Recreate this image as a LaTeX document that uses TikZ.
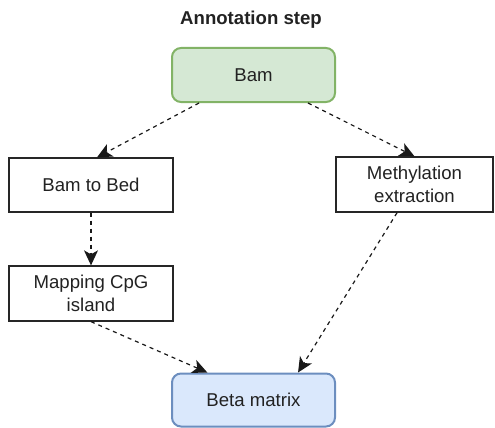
\documentclass[tikz,border=0pt]{standalone}
\usepackage{fontspec}
\setmainfont{Liberation Sans}
\usetikzlibrary{arrows.meta,calc}
\definecolor{bamfill}{HTML}{D5E8D4}
\definecolor{bamline}{HTML}{82B366}
\definecolor{betafill}{HTML}{DAE8FC}
\definecolor{betaline}{HTML}{6C8EBF}
\definecolor{txt}{HTML}{222222}
\begin{document}
\begin{tikzpicture}[x=1pt, y=-1pt,
    box/.style={draw=black!85, line width=1.3pt, fill=white, text=txt, align=center,
        inner sep=0pt, font=\fontsize{18.6}{23.5}\selectfont},
    roundbox/.style={box, rounded corners=9pt, line width=2pt},
    flow/.style={-{Stealth[length=15pt, width=14pt, inset=4pt]}, dashed,
        dash pattern=on 4pt off 4pt, line width=1.2pt, black!90}]
    \useasboundingbox (0,0) rectangle (495,428);
    % Title
    \node[text=txt, font=\fontsize{18.6}{22}\selectfont\bfseries] (title) at (251, 20) {Annotation step};

    % Top and bottom (rounded) boxes
    \node[roundbox, fill=bamfill, draw=bamline, minimum width=163pt, minimum height=54pt] (bam) at (253.5, 75) {Bam};
    \node[roundbox, fill=betafill, draw=betaline, minimum width=163pt, minimum height=53pt] (beta) at (253.5, 400) {Beta matrix};

    % Left branch
    \node[box, minimum width=164pt, minimum height=54pt] (bed) at (91, 185) {Bam to Bed};
    \node[box, minimum width=164pt, minimum height=55pt] (cpg) at (91, 293.5) {Mapping CpG\\island};

    % Right branch
    \node[box, minimum width=157pt, minimum height=55pt] (meth) at (414.5, 184.5) {Methylation\\extraction};

    % Connectors
    \draw[flow] ($(bam.south west)!0.17!(bam.south east)$) -- ($(bed.north)+(6,0)$);
    \draw[flow] ($(bam.south west)!0.83!(bam.south east)$) -- (meth.north);
    \draw[flow] (bed.south) -- (cpg.north);
    \draw[flow] (cpg.south) -- ($(beta.north west)!0.22!(beta.north east)$);
    \draw[flow] ($(meth.south west)!0.39!(meth.south east)$) -- ($(beta.north west)!0.77!(beta.north east)$);
\end{tikzpicture}
\end{document}
